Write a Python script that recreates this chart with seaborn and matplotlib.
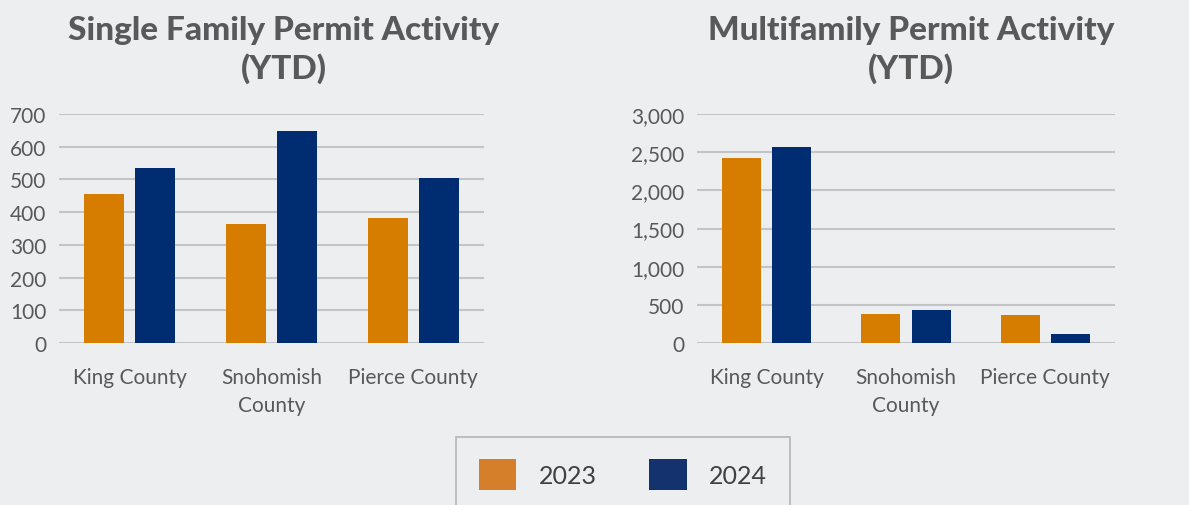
import matplotlib
matplotlib.use("Agg")
import matplotlib.pyplot as plt
import seaborn as sns
import pandas as pd
from matplotlib.patches import Patch
from matplotlib.ticker import FuncFormatter, MultipleLocator

categories = ["King County", "Snohomish\nCounty", "Pierce County"]
years = ["2023", "2024"]
single_2023 = [454, 364, 383]
single_2024 = [535, 648, 503]
multi_2023 = [2424, 384, 371]
multi_2024 = [2568, 432, 122]

BG = "#EDEEF0"
C23 = "#D67D00"
C24 = "#002D72"
TXT = "#595959"

sns.set_theme(style="white")
plt.rcParams["font.family"] = ["Lato", "DejaVu Sans"]

def make_df(a, b):
    rows = []
    for c, v in zip(categories, a):
        rows.append({"cat": c, "year": years[0], "val": v})
    for c, v in zip(categories, b):
        rows.append({"cat": c, "year": years[1], "val": v})
    return pd.DataFrame(rows)

fig = plt.figure(figsize=(11.89, 5.06), dpi=100, facecolor=BG)
W, H = 1189, 506
ax1 = fig.add_axes([59 / W, 1 - 344 / H, (484 - 59) / W, (344 - 115) / H])
ax2 = fig.add_axes([697 / W, 1 - 344 / H, (1115 - 697) / W, (344 - 115) / H])

specs = [
    (ax1, make_df(single_2023, single_2024), 700, 100,
     "Single Family Permit Activity\n(YTD)", 0.529),
    (ax2, make_df(multi_2023, multi_2024), 3000, 500,
     "Multifamily Permit Activity\n(YTD)", 0.512),
]
for ax, df, top, step, title, tx in specs:
    ax.set_facecolor(BG)
    sns.barplot(data=df, x="cat", y="val", hue="year", order=categories,
                hue_order=years, palette=[C23, C24], width=0.72, gap=0.22,
                ax=ax, legend=False, saturation=1, edgecolor="none", linewidth=0)
    ax.set_ylim(0, top)
    ax.yaxis.set_major_locator(MultipleLocator(step))
    ax.yaxis.set_major_formatter(FuncFormatter(lambda v, p: f"{int(v):,}"))
    ax.grid(axis="y", color="#C3C4C6", linewidth=1.5)
    ax.set_axisbelow(True)
    for s in ax.spines.values():
        s.set_visible(False)
    ax.tick_params(axis="both", length=0, labelsize=15, labelcolor=TXT, pad=9)
    ax.tick_params(axis="x", pad=17)
    for t in ax.get_xticklabels():
        t.set_linespacing(1.5)
    ax.set_xlabel("")
    ax.set_ylabel("")
    ax.set_title(title, fontsize=24, fontweight="black", color=TXT, x=tx,
                 family=["Lato", "DejaVu Sans"], pad=26, linespacing=1.32)

handles = [Patch(facecolor="#D67F2A", edgecolor="none", label="2023"),
           Patch(facecolor="#14336E", edgecolor="none", label="2024")]
leg = fig.legend(handles=handles, loc="upper center",
                 bbox_to_anchor=(623 / W, 1 - 425 / H), ncol=2, frameon=True,
                 fontsize=18, handlelength=1.5, handleheight=1.5,
                 handletextpad=0.9, columnspacing=2.1, borderpad=0.9,
                 fancybox=False, edgecolor="#A6A6A6", facecolor=BG)
leg.get_frame().set_linewidth(1.2)
for t in leg.get_texts():
    t.set_color("#404040")
    t.set_family(["Lato", "DejaVu Sans"])

fig.savefig("out.png", dpi=100, facecolor=BG)
